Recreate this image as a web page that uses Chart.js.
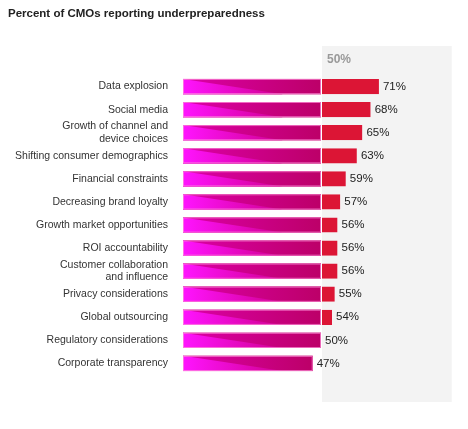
<!DOCTYPE html><html><head><meta charset="utf-8">
<script src="https://cdn.jsdelivr.net/npm/chart.js@4"></script>
<style>body{margin:0;background:#fff}#w{position:relative;width:468px;height:429px}
#t{position:absolute;left:8px;top:7px;font:bold 11.5px "Liberation Sans",Arial,sans-serif;color:#222}</style></head><body>
<div id="w"><div id="t">Percent of CMOs reporting underpreparedness</div><canvas id="c" width="468" height="429"></canvas></div>
<script>
const categories=["Data explosion","Social media",["Growth of channel and","device choices"],"Shifting consumer demographics","Financial constraints","Decreasing brand loyalty","Growth market opportunities","ROI accountability",["Customer collaboration","and influence"],"Privacy considerations","Global outsourcing","Regulatory considerations","Corporate transparency"];
const values=[71,68,65,63,59,57,56,56,56,55,54,50,47];
const threshold=50;
const base=values.map(v=>Math.min(v,threshold));
const excess=values.map(v=>Math.max(v-threshold,0));
const deco={id:'deco',
beforeDatasetsDraw(ch){const x=ch.scales.x,c=ch.ctx;const l=x.getPixelForValue(threshold);c.save();c.fillStyle='#f3f3f3';c.fillRect(l+1,46,x.getPixelForValue(97)-l,356);
c.fillStyle='#999';c.font='bold 12px "Liberation Sans",Arial,sans-serif';c.textBaseline='middle';c.fillText('50%',l+6,60);c.restore();},
afterDatasetsDraw(ch){const c=ch.ctx;const m=ch.getDatasetMeta(0);c.save();
m.data.forEach(b=>{const top=b.y-b.height/2,bot=b.y+b.height/2,L=b.base,R=b.x;
const g0=c.createLinearGradient(L,0,R,0);g0.addColorStop(0,'#dc00a8');g0.addColorStop(1,'#bc0068');c.fillStyle=g0;c.fillRect(L,top,R-L,bot-top);
const g=c.createLinearGradient(L,0,L+100,0);g.addColorStop(0,'#ff14ff');g.addColorStop(1,'#d0008e');c.fillStyle=g;c.beginPath();c.moveTo(L,top);c.lineTo(L+100,bot);c.lineTo(L,bot);c.closePath();c.fill();
c.strokeStyle='rgba(255,150,220,0.7)';c.lineWidth=1;c.strokeRect(L+0.5,top+0.5,R-L-1,bot-top-1);});
const m1=ch.getDatasetMeta(1);c.font='11.5px "Liberation Sans",Arial,sans-serif';c.fillStyle='#222';c.textBaseline='middle';
values.forEach((v,i)=>{const b=v>threshold?m1.data[i]:m.data[i];c.fillText(v+'%',b.x+4,b.y);});c.restore();}};
new Chart(document.getElementById('c'),{type:'bar',data:{labels:categories,datasets:[
{data:base,backgroundColor:'#c0006c',borderWidth:0,barPercentage:0.66,categoryPercentage:1},
{data:excess,backgroundColor:'#dc1535',borderWidth:{left:1},borderColor:'#fff',borderSkipped:false,barPercentage:0.66,categoryPercentage:1}]},
options:{indexAxis:'y',responsive:false,animation:false,layout:{padding:{top:75,bottom:54,right:9,left:0}},
plugins:{legend:{display:false},tooltip:{enabled:false}},
scales:{x:{stacked:true,min:0,max:100,display:false},y:{stacked:true,grid:{display:false},border:{display:false},
ticks:{autoSkip:false,color:'#333',font:{family:'"Liberation Sans",Arial,sans-serif',size:10.5},padding:7},afterFit(a){a.width=183;}}}},
plugins:[deco]});
</script></body></html>
